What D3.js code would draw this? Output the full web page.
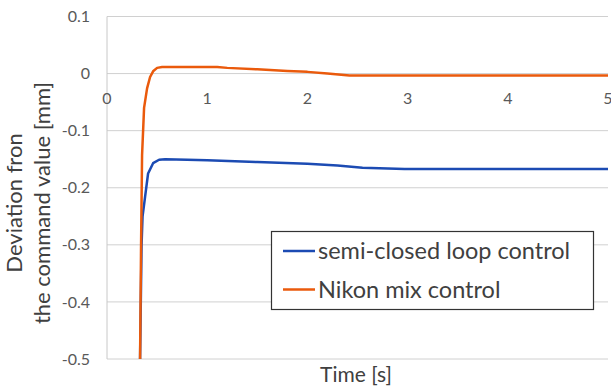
<!DOCTYPE html>
<html>
<head>
<meta charset="utf-8">
<script src="https://cdn.jsdelivr.net/npm/d3@7"></script>
<style>
  body { margin: 0; background: #fff; }
  svg { display: block; font-family: Lato, "Open Sans", sans-serif; }
</style>
</head>
<body>
<svg id="chart"></svg>
<script>
// time [s] and deviation [mm]
const semiTime = [0.33, 0.345, 0.355, 0.38, 0.41, 0.46, 0.52, 0.58, 0.8, 1.0, 1.5, 2.0, 2.3, 2.55, 2.97, 5.0];
const semiDev = [-0.5, -0.3, -0.25, -0.216, -0.175, -0.157, -0.151, -0.150, -0.151, -0.152, -0.155, -0.158, -0.161, -0.165, -0.167, -0.167];
const nikonTime = [0.33, 0.34, 0.35, 0.37, 0.40, 0.43, 0.46, 0.50, 0.55, 0.8, 1.1, 1.2, 1.5, 1.8, 2.0, 2.2, 2.42, 5.0];
const nikonDev = [-0.5, -0.3, -0.143, -0.06, -0.026, -0.006, 0.004, 0.010, 0.0115, 0.0115, 0.0115, 0.010, 0.0075, 0.0045, 0.003, 0.0, -0.0035, -0.0035];

const seriesNames = ["semi-closed loop control", "Nikon mix control"];
const seriesColors = ["#1c4bb3", "#ea5a0c"];
const xTicks = [0, 1, 2, 3, 4, 5];
const yTicks = [0.1, 0, -0.1, -0.2, -0.3, -0.4, -0.5];

const width = 611, height = 387;
const svg = d3.select("#chart").attr("width", width).attr("height", height);

const x = d3.scaleLinear().domain([0, 5]).range([107, 608]);
const y = d3.scaleLinear().domain([-0.5, 0.1]).range([359, 16.5]);

// horizontal gridlines
svg.append("g")
  .selectAll("line")
  .data(yTicks)
  .join("line")
    .attr("x1", x(0))
    .attr("x2", x(5))
    .attr("y1", d => y(d))
    .attr("y2", d => y(d))
    .attr("stroke", "#d0d0d0")
    .attr("stroke-width", 1);

// left axis line
svg.append("line")
  .attr("x1", x(0)).attr("x2", x(0))
  .attr("y1", y(0.1)).attr("y2", y(-0.5))
  .attr("stroke", "#c8c8c8");

// y tick labels
svg.append("g")
  .selectAll("text")
  .data(yTicks)
  .join("text")
    .attr("x", 90)
    .attr("y", d => y(d))
    .attr("dy", "0.35em")
    .attr("text-anchor", "end")
    .attr("fill", "#595959")
    .style("font-size", "16px")
    .text(d => d === 0 ? "0" : d3.format(".1f")(d).replace("−", "-"));

// x tick labels sit under the zero line
svg.append("g")
  .selectAll("text")
  .data(xTicks)
  .join("text")
    .attr("x", d => x(d))
    .attr("y", y(0) + 25)
    .attr("dy", "0.35em")
    .attr("text-anchor", "middle")
    .attr("fill", "#595959")
    .style("font-size", "16px")
    .text(d => d);

const line = d3.line()
  .x(d => x(d[0]))
  .y(d => y(d[1]));

const semi = semiTime.map((t, i) => [t, semiDev[i]]);
const nikon = nikonTime.map((t, i) => [t, nikonDev[i]]);

[semi, nikon].forEach((s, i) => {
  svg.append("path")
    .datum(s)
    .attr("fill", "none")
    .attr("stroke", seriesColors[i])
    .attr("stroke-width", 2.5)
    .attr("stroke-linejoin", "round")
    .attr("d", line);
});

// legend
const legend = svg.append("g");
legend.append("rect")
  .attr("x", 271.5).attr("y", 231.5)
  .attr("width", 322).attr("height", 78)
  .attr("fill", "#fff")
  .attr("stroke", "#333")
  .attr("stroke-width", 1.2);

seriesNames.forEach((name, i) => {
  const ly = 251 + i * 38.5;
  legend.append("line")
    .attr("x1", 283).attr("x2", 315)
    .attr("y1", ly).attr("y2", ly)
    .attr("stroke", seriesColors[i])
    .attr("stroke-width", 2.5);
  legend.append("text")
    .attr("x", 318)
    .attr("y", ly)
    .attr("dy", "0.35em")
    .attr("fill", "#404040")
    .style("font-size", "23.5px")
    .text(name);
});

// axis titles
svg.append("text")
  .attr("x", 356)
  .attr("y", 375)
  .attr("dy", "0.35em")
  .attr("text-anchor", "middle")
  .attr("fill", "#404040")
  .style("font-size", "21px")
  .text("Time [s]");

const yTitle = svg.append("text")
  .attr("transform", "translate(0,203) rotate(-90)")
  .attr("text-anchor", "middle")
  .attr("fill", "#404040")
  .style("font-size", "22px");
yTitle.append("tspan").attr("x", 0).attr("y", 22).text("Deviation fron");
yTitle.append("tspan").attr("x", 0).attr("y", 50).text("the command value [mm]");
</script>
</body>
</html>
